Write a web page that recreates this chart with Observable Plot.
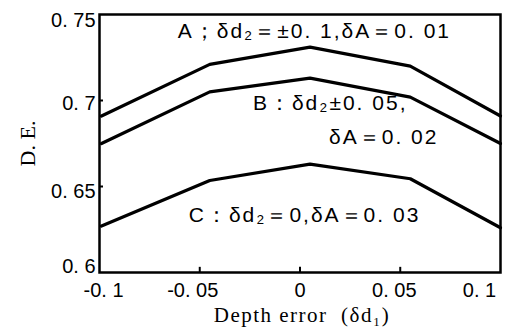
<!DOCTYPE html>
<html>
<head>
<meta charset="utf-8">
<script src="https://cdn.jsdelivr.net/npm/d3@7"></script>
<script src="https://cdn.jsdelivr.net/npm/@observablehq/plot@0.6"></script>
<style>
  html, body { margin: 0; padding: 0; background: #fff; }
  svg { display: block; }
</style>
</head>
<body>
<div id="chart"></div>
<script>
// Depth error values (x) where each curve has a vertex
const depthError = [-0.099, -0.045, 0.005, 0.055, 0.1];
// Diffraction efficiency (D. E.) for each curve
const seriesA = [0.691, 0.721, 0.731, 0.720, 0.691];
const seriesB = [0.675, 0.705, 0.713, 0.702, 0.675];
const seriesC = [0.627, 0.6535, 0.663, 0.6545, 0.626];

const xTicks = [-0.1, -0.05, 0, 0.05, 0.1];
const xTickLabels = ["-0. 1", "-0. 05", "0", "0. 05", "0. 1"];
const yTicks = [0.6, 0.65, 0.7, 0.75];
const yTickLabels = ["0. 6", "0. 65", "0. 7", "0. 75"];

const curveLabels = ["A；δd₂＝±0. 1,δA＝0. 01", "B：δd₂±0. 05,", "δA＝0. 02", "C：δd₂＝0,δA＝0. 03"];
const labelX = [-0.061, -0.0235, 0.0145, -0.0555];
const labelY = [0.7401, 0.6983, 0.6785, 0.6331];

const xTitle = "Depth error  (δd₁)";
const yTitle = "D. E.";

const series = [seriesA, seriesB, seriesC];
const lineData = series.flatMap((vals, s) => vals.map((v, i) => ({s, x: depthError[i], y: v})));
const labelData = curveLabels.map((t, i) => ({t, x: labelX[i], y: labelY[i]}));

// pixel nudges of tick labels
const xLabelNudge = [4, -7, 0, -6, -21];
const yLabelNudge = [-6, 5, 3, 6];

const chart = Plot.plot({
  width: 509,
  height: 327,
  marginLeft: 99,
  marginRight: 9,
  marginTop: 14,
  marginBottom: 55,
  style: {fontFamily: "Liberation Sans, sans-serif", background: "#fff", color: "#000"},
  x: {domain: [-0.1, 0.1], axis: null},
  y: {domain: [0.6, 0.75], axis: null},
  marks: [
    ...yTicks.map((t, i) => Plot.text([t], {y: d => d, text: () => yTickLabels[i], frameAnchor: "left", textAnchor: "end", lineAnchor: "middle", dx: -4, dy: yLabelNudge[i], fontSize: 20, fill: "#000"})),
    ...xTicks.map((t, i) => Plot.text([t], {x: d => d, text: () => xTickLabels[i], frameAnchor: "bottom", textAnchor: "middle", lineAnchor: "middle", dy: 18, dx: xLabelNudge[i], fontSize: 20, fill: "#000"})),
    Plot.ruleY(yTicks.slice(1, 3), {x1: -0.1, x2: -0.098, stroke: "#000", strokeWidth: 2}),
    Plot.ruleX(xTicks.slice(1, 4), {y1: 0.6, y2: 0.603, stroke: "#000", strokeWidth: 2}),
    Plot.line(lineData, {x: "x", y: "y", z: "s", stroke: "#000", strokeWidth: 3.2, strokeLinejoin: "miter"}),
    Plot.text(labelData, {x: "x", y: "y", text: "t", textAnchor: "start", lineAnchor: "middle", fontSize: 21, fill: "#000"}),
    Plot.text([xTitle], {frameAnchor: "bottom", textAnchor: "middle", lineAnchor: "middle", dy: 43, dx: 2, fontSize: 21, fontFamily: "Liberation Serif, serif", fill: "#000"}),
    Plot.text([yTitle], {frameAnchor: "left", textAnchor: "middle", lineAnchor: "middle", dx: -72, dy: 0, rotate: -90, fontSize: 22, fontFamily: "Liberation Serif, serif", fill: "#000"}),
    Plot.frame({stroke: "#000", strokeWidth: 2.5})
  ]
});
d3.select(chart).selectAll("text").each(function () {
  const s = this.textContent;
  if (curveLabels.includes(s)) {
    this.setAttribute("letter-spacing", "2");
    this.style.letterSpacing = "2px";
  } else if (s === xTitle) {
    this.setAttribute("letter-spacing", "1.5");
    this.setAttribute("xml:space", "preserve");
    this.style.letterSpacing = "1.5px";
    this.style.whiteSpace = "pre";
  }
});
document.getElementById("chart").appendChild(chart);
</script>
</body>
</html>
